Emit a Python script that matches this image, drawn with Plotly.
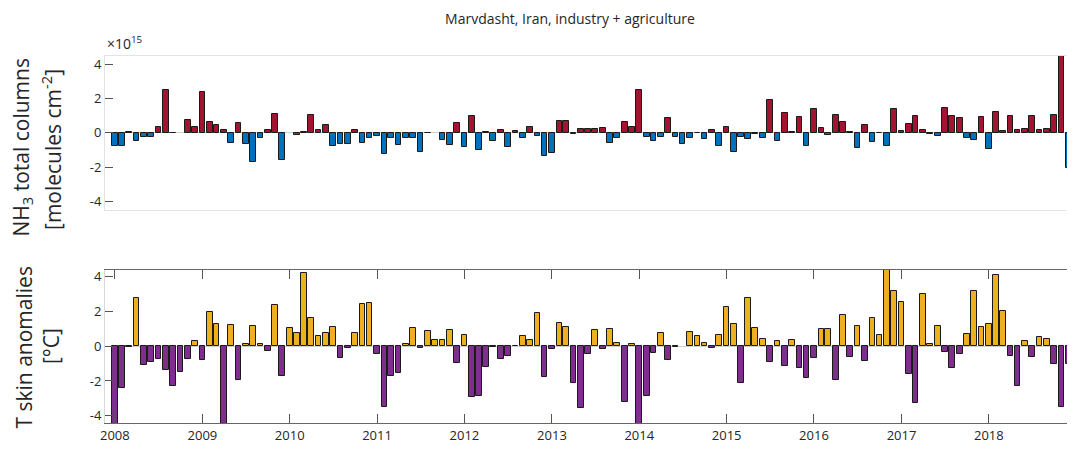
import pandas as pd
import plotly.graph_objects as go
from plotly.subplots import make_subplots

# ---- data ----
months = pd.date_range("2008-01-01", "2018-12-01", freq="MS").strftime("%Y-%m-%d").tolist()

nh3_anomaly = [  # x 1e15 molecules cm-2
    -0.76, -0.76, 0.06, -0.48, -0.25, -0.25, 0.33, 2.48, -0.02, None, 0.76, 0.35,
    2.38, 0.60, 0.48, 0.16, -0.60, 0.56, -0.64, -1.69, -0.33, 0.16, 1.10, -1.57,
    None, -0.14, 0.06, 1.05, 0.16, 0.45, -0.76, -0.68, -0.64, 0.16, -0.60, -0.29,
    -0.21, -1.24, -0.29, -0.74, -0.33, -0.33, -1.10, -0.04, None, -0.45, -0.70, 0.56,
    -0.83, 0.99, -0.99, 0.06, -0.48, 0.16, -0.83, 0.10, -0.33, 0.33, -0.21, -1.34,
    -1.18, 0.68, 0.68, -0.08, 0.23, 0.19, 0.19, 0.27, -0.60, -0.29, 0.62, 0.35,
    2.48, -0.23, -0.48, -0.23, 0.85, -0.23, -0.66, -0.33, -0.04, -0.39, 0.17, -0.78,
    0.33, -1.10, -0.23, -0.39, -0.08, -0.33, 1.92, -0.48, 1.14, 0.06, 0.91, -0.80,
    1.41, 0.25, -0.14, 1.01, 0.60, 0.06, -0.91, 0.45, -0.56, -0.03, -0.76, 1.41,
    0.10, 0.50, 0.99, 0.16, -0.10, -0.19, 1.45, 0.95, 0.85, -0.29, -0.43, 0.91,
    -0.95, 1.20, 0.08, 0.95, 0.16, 0.19, 0.95, 0.17, 0.23, 1.05, 5.00, -2.03,
]

tskin_anomaly = [  # degrees C
    -4.60, -2.41, -0.06, 2.76, -1.11, -0.92, -0.71, -1.38, -2.30, -1.51, -0.71, 0.29,
    -0.80, 1.97, 1.30, -4.50, 1.21, -1.97, 0.13, 1.17, 0.10, -0.27, 2.36, -1.74,
    1.03, 0.75, 4.20, 1.61, 0.61, 0.75, 1.13, -0.69, -0.10, 0.75, 2.41, 2.51,
    -0.42, -3.49, -1.69, -1.53, 0.15, 1.03, -0.11, 0.86, 0.34, 0.34, 0.94, -0.98,
    0.63, -2.93, -2.87, -1.21, -0.06, -0.71, -0.54, 0.04, 0.56, 0.34, 1.92, -1.78,
    -0.17, 1.32, 1.09, -2.11, -3.58, -0.44, 0.92, -0.17, 1.00, 0.21, -3.22, 0.10,
    -4.50, -2.87, -0.40, 0.75, -0.80, -0.06, None, 0.80, 0.56, 0.19, -0.11, 0.63,
    2.24, 1.26, -2.11, 2.80, 1.03, 0.40, -0.92, 0.29, -1.13, 0.34, -1.23, -1.82,
    -0.67, 1.00, 1.00, -1.92, 1.80, -0.61, 1.15, -0.84, 1.61, 0.63, 4.60, 3.16,
    2.55, -1.59, -3.28, 3.01, 0.13, 1.15, -0.31, -1.23, -0.42, 0.69, 3.16, 1.13,
    1.30, 4.10, 2.05, -0.54, -2.30, 0.29, -0.63, 0.54, 0.40, -1.02, -3.51, -1.05,
]

year_ticks = [f"{y}-01-01" for y in range(2008, 2019)]
year_labels = [str(y) for y in range(2008, 2019)]

title_text = "Marvdasht, Iran, industry + agriculture"

# ---- styling ----
RED, BLUE = "#A2142F", "#0072BD"
YELLOW, PURPLE = "#EDB120", "#7E2F8E"
FONT = "Open Sans"
TXT = "#262626"
bar_w = 0.78 * 30.44 * 86400000


def colors(vals, pos, neg):
    return [pos if (v is not None and v >= 0) else neg for v in vals]


fig = make_subplots(rows=2, cols=1, shared_xaxes=False)

fig.add_trace(go.Bar(x=months, y=nh3_anomaly, width=bar_w,
                     marker=dict(color=colors(nh3_anomaly, RED, BLUE),
                                 line=dict(color="#1a1a1a", width=1)),
                     showlegend=False), row=1, col=1)
fig.add_trace(go.Bar(x=months, y=tskin_anomaly, width=bar_w,
                     marker=dict(color=colors(tskin_anomaly, YELLOW, PURPLE),
                                 line=dict(color="#1a1a1a", width=1)),
                     showlegend=False), row=2, col=1)

xrange = ["2007-11-21", "2018-12-27"]

# page body adds an 8px margin, so the figure is 8px smaller and offset
fig.update_layout(
    width=1067, height=442,
    margin=dict(l=97, r=0, t=48, b=27),
    plot_bgcolor="white", paper_bgcolor="white",
    font=dict(family=FONT, size=13, color=TXT),
    bargap=0,
    title=dict(text=title_text, xref="container", x=0.5267, xanchor="center",
               yref="container", y=0.9864, yanchor="top", pad=dict(t=0, b=0),
               font=dict(family=FONT, size=14, color=TXT)),
    xaxis=dict(domain=[0, 1], range=xrange, type="date", showticklabels=False,
               ticks="", showgrid=False, zeroline=False,
               showline=True, linecolor="#e3e3e3", linewidth=1, mirror=True),
    yaxis=dict(domain=[0.5804, 1], range=[-4.5, 4.47], tickvals=[-4, -2, 0, 2, 4],
               ticktext=["-4", "-2", "0", "2", "4"],
               ticks="inside", ticklen=8, tickcolor="#555", showgrid=False,
               zeroline=True, zerolinecolor="#d0d0d0", zerolinewidth=1,
               showline=True, linecolor="#e3e3e3", linewidth=1, mirror="ticks"),
    xaxis2=dict(domain=[0, 1], range=xrange, type="date",
                tickvals=year_ticks, ticktext=year_labels,
                ticks="inside", ticklen=9, tickcolor="#555", showgrid=False,
                zeroline=False, showline=True, linecolor="#666", linewidth=1,
                mirror="ticks"),
    yaxis2=dict(domain=[0, 0.4169], range=[-4.42, 4.385], tickvals=[-4, -2, 0, 2, 4],
                ticktext=["-4", "-2", "0", "2", "4"],
                ticks="inside", ticklen=8, tickcolor="#555", showgrid=False,
                zeroline=True, zerolinecolor="#d0d0d0", zerolinewidth=1,
                showline=True, linecolor="#d8d8d8", linewidth=1, mirror="ticks"),
)

fig.add_annotation(xref="paper", yref="paper", x=0, y=1, xanchor="left", yanchor="bottom",
                   xshift=0, yshift=1, showarrow=False,
                   text="\u00d710<sup>15</sup>", font=dict(family=FONT, size=14, color=TXT))

ylabels = [
    ("NH<sub>3</sub> total columns", 0.7507, -83),
    ("[molecules cm<sup>-2</sup>]", 0.7439, -53),
    ("T skin anomalies", 0.2057, -81),
    ("[\u00b0C]", 0.2098, -54),
]
for txt, yy, xs in ylabels:
    fig.add_annotation(xref="paper", yref="paper", x=0, y=yy, xanchor="center",
                       yanchor="middle", xshift=xs, showarrow=False, textangle=-90,
                       text=txt, font=dict(family=FONT, size=21, color=TXT))

fig.write_html("out.html")
